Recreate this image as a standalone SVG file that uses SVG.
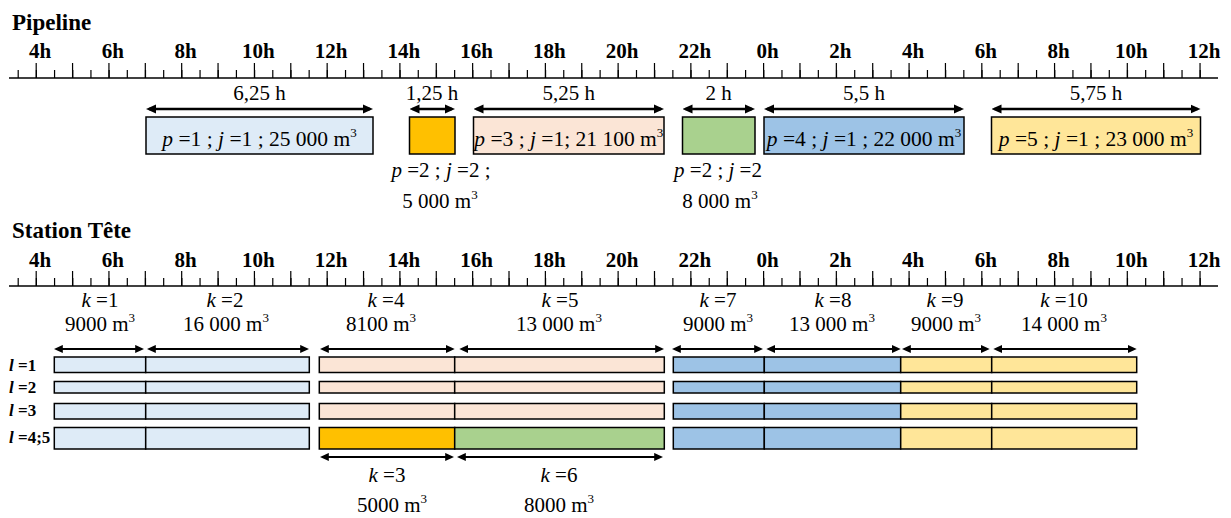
<svg xmlns="http://www.w3.org/2000/svg" width="1231" height="518" viewBox="0 0 1231 518">
<style>
.t{font-family:"Liberation Serif","Times New Roman",serif;fill:#000;font-size:21px}
.c{text-anchor:middle}
.b{font-weight:bold}
.i{font-style:italic}
.ti{font-weight:bold;font-size:23px}
.hr{font-weight:bold;font-size:21px;text-anchor:middle}
.bx{font-size:21.5px;text-anchor:middle}
.lb{font-weight:bold;font-size:17px}
.s{font-size:13px}
.ax{stroke:#000;stroke-width:1.5;fill:none}
.tk{stroke:#000;fill:none}
.box{stroke:#000;stroke-width:1.5}
.a1{stroke:#000;stroke-width:2.5;fill:none;marker-start:url(#ah1);marker-end:url(#ah1)}
.a2{stroke:#000;stroke-width:2;fill:none;marker-start:url(#ah2);marker-end:url(#ah2)}
.lb1{fill:#DEEBF7}.or{fill:#FFC000}.pe{fill:#FBE5D6}.gr{fill:#A9D18E}.bl{fill:#9DC3E6}.ye{fill:#FFE699}
</style>
<defs>
<marker id="ah1" viewBox="0 0 10 10" refX="7" refY="5" markerWidth="10" markerHeight="10" markerUnits="userSpaceOnUse" orient="auto-start-reverse"><path d="M0,0.5L10,5L0,9.5z" fill="#000"/></marker>
<marker id="ah2" viewBox="0 0 10 10" refX="7" refY="5" markerWidth="9" markerHeight="9" markerUnits="userSpaceOnUse" orient="auto-start-reverse"><path d="M0,0.5L10,5L0,9.5z" fill="#000"/></marker>
</defs>
<rect width="1231" height="518" fill="#fff"/>

<g id="pipeline-axis">
<text class="t ti" x="12" y="30">Pipeline</text>
<line class="ax" x1="9" y1="78" x2="1218" y2="78"/>
<line class="tk" x1="17.6" y1="74" x2="1201" y2="74" stroke-width="8" stroke-dasharray="1.2 16.985"/>
<line class="tk" x1="35.6" y1="70.5" x2="1202" y2="70.5" stroke-width="15" stroke-dasharray="1.2 35.17"/>
<g class="t hr">
<text x="40.2" y="58">4h</text><text x="112.9" y="58">6h</text><text x="185.7" y="58">8h</text><text x="258.4" y="58">10h</text><text x="331.2" y="58">12h</text><text x="403.9" y="58">14h</text><text x="476.6" y="58">16h</text><text x="549.4" y="58">18h</text><text x="622.1" y="58">20h</text><text x="694.9" y="58">22h</text><text x="767.6" y="58">0h</text><text x="840.3" y="58">2h</text><text x="913.1" y="58">4h</text><text x="985.8" y="58">6h</text><text x="1058.6" y="58">8h</text><text x="1131.3" y="58">10h</text><text x="1204" y="58">12h</text>
</g>
</g>

<g id="p1">
<text class="t c" x="259.5" y="100">6,25 h</text>
<rect class="box lb1" x="146" y="117" width="227" height="37"/>
<text class="t bx" x="259.5" y="146"><tspan class="i">p</tspan> =1 ; <tspan class="i">j</tspan> =1 ; 25 000 m<tspan class="s" dy="-9">3</tspan></text>
</g>
<g id="p2a">
<text class="t c" x="432" y="100">1,25 h</text>
<rect class="box or" x="409.5" y="117" width="45.5" height="37"/>
<text class="t c" x="441" y="177"><tspan class="i">p</tspan> =2 ; <tspan class="i">j</tspan> =2 ;</text>
<text class="t c" x="440" y="208">5 000 m<tspan class="s" dy="-9">3</tspan></text>
</g>
<g id="p3">
<text class="t c" x="568.8" y="100">5,25 h</text>
<rect class="box pe" x="473.5" y="117" width="190.5" height="37"/>
<text class="t bx" x="568.8" y="146"><tspan class="i">p</tspan> =3 ; <tspan class="i">j</tspan> =1; 21 100 m<tspan class="s" dy="-9">3</tspan></text>
</g>
<g id="p2b">
<text class="t c" x="718.7" y="100">2 h</text>
<rect class="box gr" x="682.5" y="117" width="72.5" height="37"/>
<text class="t c" x="718" y="177"><tspan class="i">p</tspan> =2 ; <tspan class="i">j</tspan> =2</text>
<text class="t c" x="720" y="208">8 000 m<tspan class="s" dy="-9">3</tspan></text>
</g>
<g id="p4">
<text class="t c" x="864" y="100">5,5 h</text>
<rect class="box bl" x="764" y="117" width="200" height="37"/>
<text class="t bx" x="864" y="146"><tspan class="i">p</tspan> =4 ; <tspan class="i">j</tspan> =1 ; 22 000 m<tspan class="s" dy="-9">3</tspan></text>
</g>
<g id="p5">
<text class="t c" x="1096" y="100">5,75 h</text>
<rect class="box ye" x="991.5" y="117" width="209" height="37"/>
<text class="t bx" x="1096" y="146"><tspan class="i">p</tspan> =5 ; <tspan class="i">j</tspan> =1 ; 23 000 m<tspan class="s" dy="-9">3</tspan></text>
</g>

<g id="station-axis">
<text class="t ti" x="12" y="238">Station Tête</text>
<line class="ax" x1="9" y1="286" x2="1218" y2="286"/>
<line class="tk" x1="17.6" y1="282" x2="1201" y2="282" stroke-width="8" stroke-dasharray="1.2 16.985"/>
<line class="tk" x1="35.6" y1="278.5" x2="1202" y2="278.5" stroke-width="15" stroke-dasharray="1.2 35.17"/>
<g class="t hr">
<text x="40.2" y="266.5">4h</text><text x="112.9" y="266.5">6h</text><text x="185.7" y="266.5">8h</text><text x="258.4" y="266.5">10h</text><text x="331.2" y="266.5">12h</text><text x="403.9" y="266.5">14h</text><text x="476.6" y="266.5">16h</text><text x="549.4" y="266.5">18h</text><text x="622.1" y="266.5">20h</text><text x="694.9" y="266.5">22h</text><text x="767.6" y="266.5">0h</text><text x="840.3" y="266.5">2h</text><text x="913.1" y="266.5">4h</text><text x="985.8" y="266.5">6h</text><text x="1058.6" y="266.5">8h</text><text x="1131.3" y="266.5">10h</text><text x="1204" y="266.5">12h</text>
</g>
</g>

<g id="lines-labels" class="t lb">
<text x="9" y="371"><tspan class="i">l</tspan> =1</text>
<text x="9" y="393"><tspan class="i">l</tspan> =2</text>
<text x="9" y="416"><tspan class="i">l</tspan> =3</text>
<text x="9" y="443"><tspan class="i">l</tspan> =4;5</text>
</g>

<g id="k1">
<text class="t c" x="100" y="307"><tspan class="i">k</tspan> =1</text>
<text class="t c" x="100" y="331">9000 m<tspan class="s" dy="-9">3</tspan></text>
<rect class="box lb1" x="54.3" y="357" width="91.4" height="15.5"/>
<rect class="box lb1" x="54.3" y="381.5" width="91.4" height="11.5"/>
<rect class="box lb1" x="54.3" y="403.5" width="91.4" height="15.5"/>
<rect class="box lb1" x="54.3" y="427.5" width="91.4" height="21.5"/>
</g>
<g id="k2">
<text class="t c" x="225" y="307"><tspan class="i">k</tspan> =2</text>
<text class="t c" x="226" y="331">16 000 m<tspan class="s" dy="-9">3</tspan></text>
<rect class="box lb1" x="145.7" y="357" width="163.6" height="15.5"/>
<rect class="box lb1" x="145.7" y="381.5" width="163.6" height="11.5"/>
<rect class="box lb1" x="145.7" y="403.5" width="163.6" height="15.5"/>
<rect class="box lb1" x="145.7" y="427.5" width="163.6" height="21.5"/>
</g>
<g id="k4">
<text class="t c" x="386" y="307"><tspan class="i">k</tspan> =4</text>
<text class="t c" x="381" y="331">8100 m<tspan class="s" dy="-9">3</tspan></text>
<rect class="box pe" x="319.3" y="357" width="135.4" height="15.5"/>
<rect class="box pe" x="319.3" y="381.5" width="135.4" height="11.5"/>
<rect class="box pe" x="319.3" y="403.5" width="135.4" height="15.5"/>
</g>
<g id="k3">
<rect class="box or" x="319.3" y="427.5" width="135.4" height="21.5"/>
<text class="t c" x="387" y="482"><tspan class="i">k</tspan> =3</text>
<text class="t c" x="392" y="512">5000 m<tspan class="s" dy="-9">3</tspan></text>
</g>
<g id="k5">
<text class="t c" x="560" y="307"><tspan class="i">k</tspan> =5</text>
<text class="t c" x="559" y="331">13 000 m<tspan class="s" dy="-9">3</tspan></text>
<rect class="box pe" x="454.7" y="357" width="209.6" height="15.5"/>
<rect class="box pe" x="454.7" y="381.5" width="209.6" height="11.5"/>
<rect class="box pe" x="454.7" y="403.5" width="209.6" height="15.5"/>
</g>
<g id="k6">
<rect class="box gr" x="454.7" y="427.5" width="209.6" height="21.5"/>
<text class="t c" x="559" y="482"><tspan class="i">k</tspan> =6</text>
<text class="t c" x="559" y="512">8000 m<tspan class="s" dy="-9">3</tspan></text>
</g>
<g id="k7">
<text class="t c" x="718" y="307"><tspan class="i">k</tspan> =7</text>
<text class="t c" x="718" y="331">9000 m<tspan class="s" dy="-9">3</tspan></text>
<rect class="box bl" x="673.3" y="357" width="91" height="15.5"/>
<rect class="box bl" x="673.3" y="381.5" width="91" height="11.5"/>
<rect class="box bl" x="673.3" y="403.5" width="91" height="15.5"/>
<rect class="box bl" x="673.3" y="427.5" width="91" height="21.5"/>
</g>
<g id="k8">
<text class="t c" x="833" y="307"><tspan class="i">k</tspan> =8</text>
<text class="t c" x="832" y="331">13 000 m<tspan class="s" dy="-9">3</tspan></text>
<rect class="box bl" x="764.3" y="357" width="136.4" height="15.5"/>
<rect class="box bl" x="764.3" y="381.5" width="136.4" height="11.5"/>
<rect class="box bl" x="764.3" y="403.5" width="136.4" height="15.5"/>
<rect class="box bl" x="764.3" y="427.5" width="136.4" height="21.5"/>
</g>
<g id="k9">
<text class="t c" x="945" y="307"><tspan class="i">k</tspan> =9</text>
<text class="t c" x="946" y="331">9000 m<tspan class="s" dy="-9">3</tspan></text>
<rect class="box ye" x="900.7" y="357" width="91" height="15.5"/>
<rect class="box ye" x="900.7" y="381.5" width="91" height="11.5"/>
<rect class="box ye" x="900.7" y="403.5" width="91" height="15.5"/>
<rect class="box ye" x="900.7" y="427.5" width="91" height="21.5"/>
</g>
<g id="k10">
<text class="t c" x="1064" y="307"><tspan class="i">k</tspan> =10</text>
<text class="t c" x="1064" y="331">14 000 m<tspan class="s" dy="-9">3</tspan></text>
<rect class="box ye" x="991.7" y="357" width="145" height="15.5"/>
<rect class="box ye" x="991.7" y="381.5" width="145" height="11.5"/>
<rect class="box ye" x="991.7" y="403.5" width="145" height="15.5"/>
<rect class="box ye" x="991.7" y="427.5" width="145" height="21.5"/>
</g>

<g id="connectors">
<line class="a1" x1="149" y1="109" x2="370" y2="109"/>
<line class="a1" x1="412.5" y1="109" x2="452" y2="109"/>
<line class="a1" x1="476.5" y1="109" x2="661" y2="109"/>
<line class="a1" x1="685.5" y1="109" x2="752" y2="109"/>
<line class="a1" x1="767" y1="109" x2="961" y2="109"/>
<line class="a1" x1="994.5" y1="109" x2="1197.5" y2="109"/>
<line class="a2" x1="56.5" y1="349" x2="141.5" y2="349"/>
<line class="a2" x1="149.5" y1="349" x2="306.5" y2="349"/>
<line class="a2" x1="322.5" y1="349" x2="452" y2="349"/>
<line class="a2" x1="462" y1="349" x2="661.5" y2="349"/>
<line class="a2" x1="674.5" y1="349" x2="760.5" y2="349"/>
<line class="a2" x1="769" y1="349" x2="898" y2="349"/>
<line class="a2" x1="904.5" y1="349" x2="987" y2="349"/>
<line class="a2" x1="996" y1="349" x2="1134" y2="349"/>
<line class="a2" x1="322.5" y1="457" x2="451.5" y2="457"/>
<line class="a2" x1="459.5" y1="457" x2="660.5" y2="457"/>
</g>
</svg>
